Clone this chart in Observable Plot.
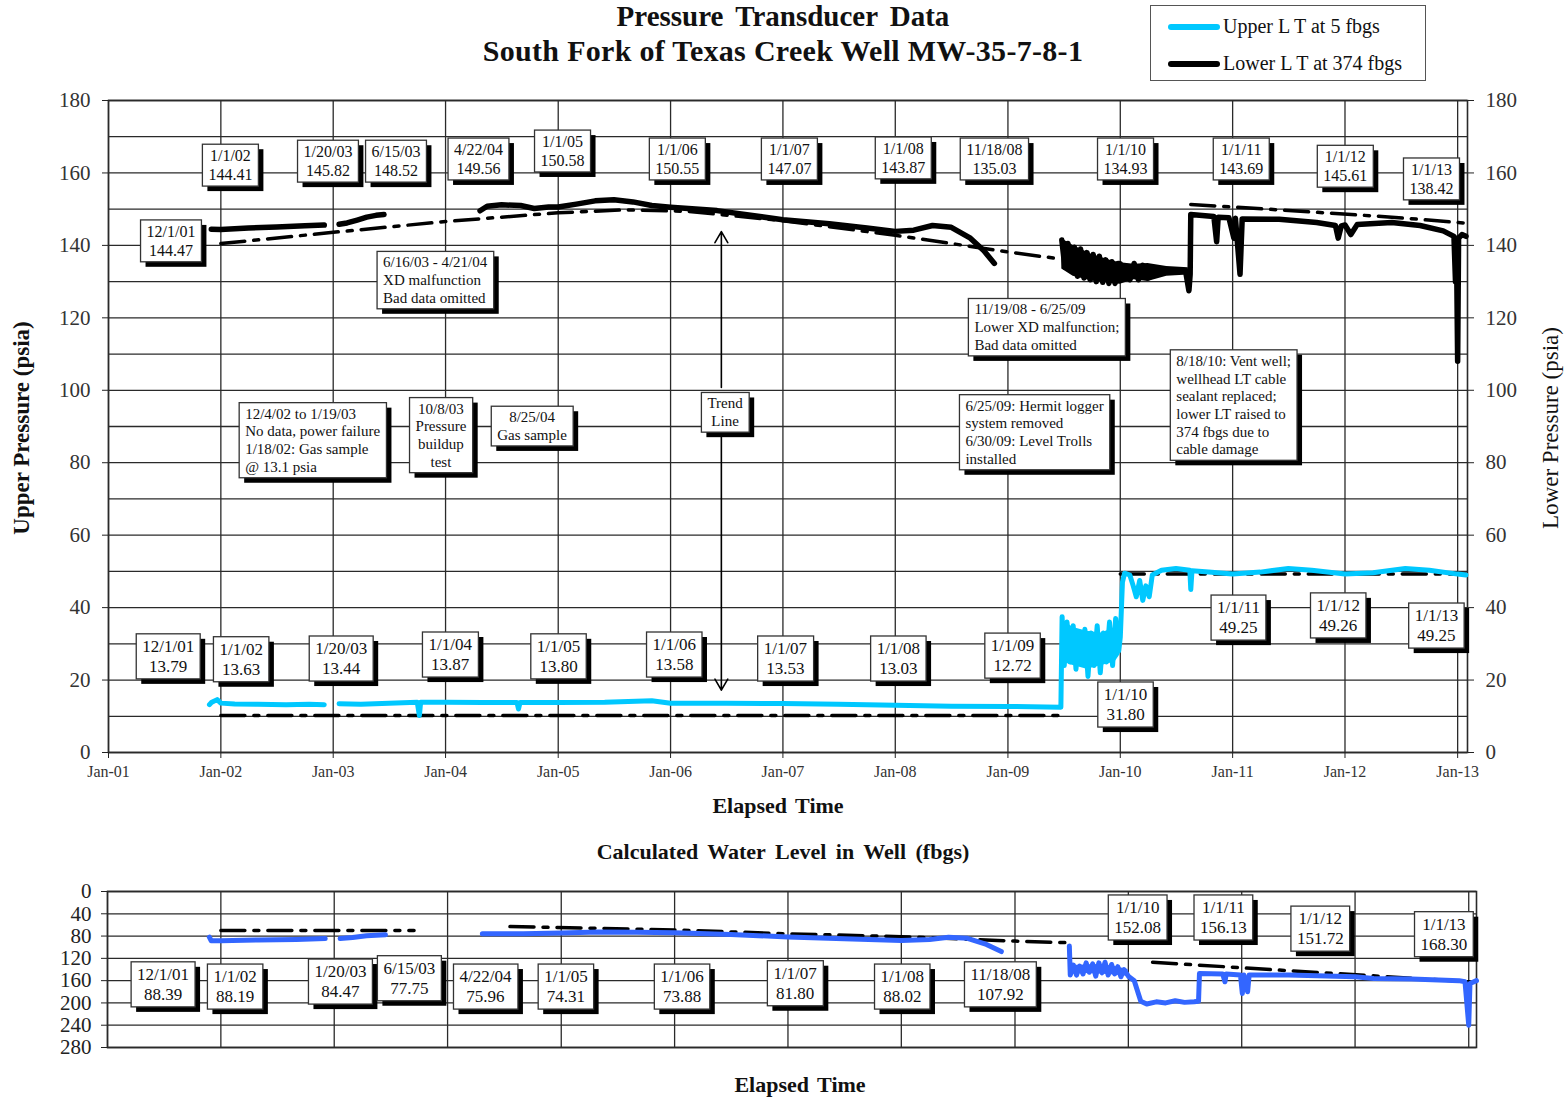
<!DOCTYPE html>
<html><head><meta charset="utf-8">
<script src="https://cdn.jsdelivr.net/npm/d3@7"></script>
<script src="https://cdn.jsdelivr.net/npm/@observablehq/plot@0.6"></script>
<style>
body{margin:0;background:#fff;}
#wrap{position:relative;width:1568px;height:1097px;font-family:"Liberation Serif","Times New Roman",serif;color:#111;overflow:hidden;}
#wrap svg{position:absolute;left:0;}
.lbl{position:absolute;white-space:nowrap;transform:translate(-50%,-50%);line-height:1.1;}
.b{font-weight:bold;}
.rot{transform:translate(-50%,-50%) rotate(-90deg);}
#legend{position:absolute;left:1150px;top:5px;width:274px;height:74px;border:1px solid #555;background:#fff;}
.lrow{position:absolute;left:17px;font-size:20px;display:flex;align-items:center;}
.sw{width:52px;height:6px;border-radius:3px;margin-right:3px;}
</style></head>
<body><div id="wrap">
<div class="lbl b" style="left:783px;top:17px;font-size:29px;word-spacing:5px;">Pressure Transducer Data</div>
<div class="lbl b" style="left:783px;top:50px;font-size:30px;letter-spacing:0.3px;">South Fork of Texas Creek Well MW-35-7-8-1</div>
<div id="legend">
  <div class="lrow" style="top:9px;"><div class="sw" style="background:#00c8ff"></div>Upper L T at 5 fbgs</div>
  <div class="lrow" style="top:46px;"><div class="sw" style="background:#000"></div>Lower L T at 374 fbgs</div>
</div>
</div>
<script>
// ---------- Upper LT (psia) ----------
const upperDates = ["2001-11-25","2001-12-01","2001-12-20","2002-01-01","2002-02-15","2002-05-01","2002-08-01","2002-10-15","2002-12-03","2002-12-04",
"2003-01-20","2003-04-01","2003-07-01","2003-10-01","2003-10-08","2003-10-12","2004-01-01","2004-05-01","2004-08-20","2004-08-25","2004-08-30",
"2005-01-01","2005-06-01","2005-11-01","2006-01-01","2006-07-01","2007-01-01","2007-07-01","2008-01-01","2008-07-01","2009-01-01","2009-06-22",
"2009-06-26","2009-07-03","2009-07-12","2009-07-22","2009-08-01","2009-08-10","2009-08-20","2009-08-30","2009-09-08","2009-09-18","2009-09-28",
"2009-10-08","2009-10-18","2009-10-28","2009-11-07","2009-11-17","2009-11-27","2009-12-07","2009-12-17","2009-12-27","2010-01-01","2010-01-08",
"2010-01-15","2010-02-01","2010-02-12","2010-02-22","2010-03-05","2010-03-15","2010-03-25","2010-04-05","2010-04-15","2010-05-15","2010-07-01",
"2010-08-15","2010-08-18","2010-08-22","2010-10-15","2011-01-01","2011-04-01","2011-07-01","2011-09-15","2012-01-01","2012-04-01","2012-07-15",
"2012-10-01","2013-01-01","2013-01-28"];
const upperValues = [13.2,13.79,14.6,13.63,13.4,13.3,13.2,13.3,13.2,null,
13.44,13.3,13.6,13.9,10.2,13.9,13.87,13.8,13.8,12.0,13.8,
13.8,13.9,14.3,13.58,13.6,13.53,13.3,13.03,12.8,12.72,12.5,
37.5,24,36,25,35,23,33,26,34,21,33,
24,35,22,33,25,36,24,37,28,31.8,47,
49.5,49,46,43,47.5,42,46,43,49,50.3,50.8,
50.3,45,50.2,49.8,49.25,49.8,50.8,50.3,49.26,49.6,50.8,
50.3,49.25,49.0];
// noisy envelope of the upper LT, 6/2009 - 12/2009
const upperBandDates = ["2009-06-27","2009-08-01","2009-09-15","2009-11-01","2009-12-15","2009-12-31"];
const upperBandHigh = [36.5,34.5,33.5,33,34.5,33.5];
const upperBandLow = [25,24,23,24,25,27];

// ---------- Lower LT (psia) ----------
const lowerDates = ["2001-12-01","2002-01-01","2002-04-01","2002-07-01","2002-10-01","2002-12-03","2002-12-04",
"2003-01-20","2003-02-15","2003-03-20","2003-04-20","2003-05-20","2003-06-15","2003-06-16",
"2004-04-22","2004-05-15","2004-07-01","2004-09-01","2004-10-15","2004-12-01","2005-01-01","2005-03-01","2005-05-01","2005-07-01",
"2005-09-01","2005-11-01","2006-01-01","2006-06-01","2007-01-01","2007-06-01","2007-10-01","2008-01-01","2008-03-01","2008-05-01",
"2008-07-01","2008-09-01","2008-10-15","2008-11-18","2008-11-19",
"2009-06-25","2009-07-05","2009-07-15","2009-07-25","2009-08-05","2009-08-15","2009-08-25","2009-09-05","2009-09-15","2009-09-25",
"2009-10-05","2009-10-15","2009-10-25","2009-11-05","2009-11-15","2009-11-25","2009-12-05","2009-12-15","2009-12-25","2010-01-01",
"2010-01-10","2010-01-20","2010-02-01","2010-02-15","2010-03-01","2010-03-15","2010-04-01","2010-04-15","2010-05-01","2010-06-01",
"2010-07-01","2010-08-01","2010-08-12","2010-08-16","2010-08-18","2010-09-15","2010-11-01","2010-11-10","2010-11-15","2010-12-20",
"2011-01-05","2011-01-10","2011-01-25","2011-02-01","2011-06-01","2011-10-01","2011-12-01","2011-12-10","2011-12-20","2012-01-01",
"2012-01-20","2012-02-10","2012-06-01","2012-09-01","2012-11-15","2012-12-20","2012-12-25","2012-12-28","2013-01-01","2013-01-04",
"2013-01-15","2013-01-28"];
const lowerValues = [144.47,144.41,144.8,145.1,145.4,145.6,null,
145.82,146.2,147.0,147.8,148.3,148.52,null,
149.56,150.8,151.2,151.0,150.2,150.6,150.58,151.4,152.3,152.6,
152.0,151.0,150.55,149.6,147.07,146.0,144.8,143.87,144.2,145.5,
145.0,142.0,138.5,135.03,null,
141.5,134,140.5,133,139.5,131.5,139,131,138,130.5,
137.5,130,137,129.8,136,129.5,135.5,129.5,135,134.93,
131,134,130.5,135,130.5,134.5,131,134,132.5,133,
133.3,133,127.5,132,148.5,148.3,148,141,147.8,147.6,
142,147.5,132,147.3,147.2,146.3,145.5,142,145.4,145.61,
143,145.8,146.3,145.5,144,142.5,130,142,108,142,
143,142.5];
// noisy envelope of the lower LT, 6/2009 - 8/2010
const lowerBandDates = ["2009-06-25","2009-08-01","2009-10-01","2009-12-01","2010-01-01","2010-02-15","2010-04-01","2010-06-01","2010-08-10"];
const lowerBandHigh = [141.8,140.0,137.5,135.8,135.2,134.8,135.0,134.2,133.8];
const lowerBandLow = [133.5,131.5,130.2,129.5,129.3,130.5,130.0,131.5,131.8];

// ---------- trend lines (psia) ----------
const lowerTrendDates = ["2002-01-01","2003-01-01","2004-01-01","2005-01-01","2005-08-01","2006-03-01","2007-01-01","2008-01-01","2009-01-01","2009-06-25","2009-06-26","2010-08-18","2011-06-01","2012-06-01","2013-01-20"];
const lowerTrendValues = [140.5,143.6,146.6,149.0,149.8,149.4,146.8,142.8,138.2,136.2,null,151.3,149.8,147.8,146.2];
const upperTrendDates = ["2002-01-01","2009-06-25","2009-06-26","2010-01-01","2013-01-28"];
const upperTrendValues = [10.2,10.2,null,49.3,49.3];

// ---------- Calculated water level (fbgs) ----------
const waterDates = ["2001-11-25","2001-12-01","2002-01-01","2002-05-01","2002-09-01","2002-12-03","2002-12-04",
"2003-01-20","2003-03-01","2003-04-15","2003-06-15","2003-06-16",
"2004-04-22","2004-09-01","2005-01-01","2005-05-01","2005-09-01","2006-01-01","2006-07-01","2007-01-01","2007-07-01","2008-01-01",
"2008-04-01","2008-06-01","2008-08-01","2008-10-01","2008-11-18","2008-11-19",
"2009-06-25","2009-06-28","2009-07-08","2009-07-18","2009-07-28","2009-08-08","2009-08-18","2009-08-28","2009-09-08","2009-09-18",
"2009-09-28","2009-10-08","2009-10-18","2009-10-28","2009-11-08","2009-11-18","2009-11-28","2009-12-08","2009-12-18","2010-01-01",
"2010-01-20","2010-02-10","2010-03-01","2010-04-01","2010-05-01","2010-06-01","2010-07-01","2010-08-01","2010-08-15","2010-08-18",
"2010-11-01","2010-11-08","2010-11-12","2010-12-28","2011-01-03","2011-01-08","2011-01-20","2011-01-25","2011-06-01","2012-01-01",
"2012-03-01","2012-07-01","2012-12-01","2012-12-20","2013-01-01","2013-01-05","2013-01-26"];
const waterValues = [82,88.4,88.2,87,86,84.5,null,
84.5,82.5,79.5,77.8,null,
76,76,74.3,72.5,73,73.9,77,81.8,85,88,
86,82,84,95,107.9,null,
98,150,132,150,134,148,128,145,130,152,
128,146,127,150,131,148,135,153,140,152,
160,197,202,198,200,196,199,198,197,147,
148,162,148,150,183,150,180,150,150,153,
156,157,160,162,240,165,160];
// noisy envelope of the water level, 7/2009 - 12/2009
const waterBandDates = ["2009-07-01","2009-08-15","2009-10-01","2009-11-15","2009-12-31"];
const waterBandLow = [133,132,131,134,140];
const waterBandHigh = [148,147,148,150,152];
const waterTrendDates = ["2002-01-01","2003-09-15","2003-09-16","2004-07-20","2006-01-01","2007-01-01","2008-01-01","2009-01-01","2009-06-25","2009-06-26","2010-03-20","2013-01-01"];
const waterTrendValues = [70,70,null,63,69,76,81,89,92,null,127,162];

// ---------- annotation labels ----------
const lowerLabelDates = ["2001-07-23","2002-02-01","2002-12-15","2003-07-24","2004-04-17","2005-01-15","2006-01-23","2007-01-22","2008-01-27","2008-11-18","2010-01-18","2011-01-29","2012-01-02","2012-10-08"];
const lowerLabelValues = [141.4,162.3,163.4,163.4,164,166.2,164,164,164.3,164,164,164,162,158.5];
const lowerLabelTexts = ["12/1/01\n144.47","1/1/02\n144.41","1/20/03\n145.82","6/15/03\n148.52","4/22/04\n149.56","1/1/05\n150.58","1/1/06\n150.55","1/1/07\n147.07","1/1/08\n143.87","11/18/08\n135.03","1/1/10\n134.93","1/1/11\n143.69","1/1/12\n145.61","1/1/13\n138.42"];

const noteDates = ["2003-06-12","2008-09-14","2002-03-21","2003-12-17","2004-10-08","2006-06-27","2008-08-16","2010-07-02"];
const noteValues = [130.6,117.6,86.4,87.8,90.3,94.1,88.6,96.1];
const noteAligns = ["start","start","start","middle","middle","middle","start","start"];
const noteTexts = ["6/16/03 - 4/21/04\nXD malfunction\nBad data omitted",
"11/19/08 - 6/25/09\nLower XD malfunction;\nBad data omitted",
"12/4/02 to 1/19/03\nNo data, power failure\n1/18/02: Gas sample\n@ 13.1 psia",
"10/8/03\nPressure\nbuildup\ntest",
"8/25/04\nGas sample",
"Trend\nLine",
"6/25/09: Hermit logger\nsystem removed\n6/30/09: Level Trolls\ninstalled",
"8/18/10: Vent well;\nwellhead LT cable\nsealant replaced;\nlower LT raised to\n374 fbgs due to\ncable damage"];

const upperLabelDates = ["2001-07-14","2002-03-08","2003-01-27","2004-01-16","2005-01-02","2006-01-13","2007-01-09","2008-01-11","2009-01-16","2010-01-18","2011-01-20","2011-12-10","2012-10-24"];
const upperLabelValues = [26.8,26.0,26.2,27.3,26.8,27.3,26.2,26.2,27.0,13.5,37.5,38.1,35.3];
const upperLabelTexts = ["12/1/01\n13.79","1/1/02\n13.63","1/20/03\n13.44","1/1/04\n13.87","1/1/05\n13.80","1/1/06\n13.58","1/1/07\n13.53","1/1/08\n13.03","1/1/09\n12.72","1/1/10\n31.80","1/1/11\n49.25","1/1/12\n49.26","1/1/13\n49.25"];

const trendArrowDate = "2006-06-15";
const trendArrowFrom = [100.8, 87.5];
const trendArrowTo = [143.8, 17.2];

const waterLabelDates = ["2001-06-29","2002-02-16","2003-01-21","2003-08-31","2004-05-02","2005-01-16","2006-01-25","2007-01-24","2008-01-04","2008-11-15","2010-01-31","2010-11-03","2011-09-11","2012-10-13"];
const waterLabelValues = [165,169,160,154,169,169,169,163,169,165,45,45,65,75];
const waterLabelTexts = ["12/1/01\n88.39","1/1/02\n88.19","1/20/03\n84.47","6/15/03\n77.75","4/22/04\n75.96","1/1/05\n74.31","1/1/06\n73.88","1/1/07\n81.80","1/1/08\n88.02","11/18/08\n107.92","1/1/10\n152.08","1/1/11\n156.13","1/1/12\n151.72","1/1/13\n168.30"];

const pressureTicks = d3.range(0, 181, 20);
const pressureGrid = d3.range(0, 181, 10);
const waterTicks = d3.range(0, 281, 40);
const yearTicks = d3.range(2001, 2014).map(y => new Date(Date.UTC(y, 0, 1)));

// ---------- helpers ----------
const D = s => new Date(s + "T00:00:00Z");
const rows = (ds, vs) => ds.map((d, i) => ({date: D(d), value: vs[i]}));
const band = (ds, lo, hi) => ds.map((d, i) => ({date: D(d), lo: lo[i], hi: hi[i]}));
const lab = (ds, vs, ts, al) => ds.map((d, i) => ({date: D(d), value: vs[i], text: ts[i], align: al ? al[i] : "middle"}));
const dashDot = "24,9,5,9";
const FONT = '"Liberation Serif","Times New Roman",serif';

function annot(data, size, anchor) {
  return Plot.text(data, {x: "date", y: "value", text: "text", textAnchor: anchor || "middle", lineAnchor: "middle",
    fontSize: size, lineHeight: 1.18, fill: "#111", fontFamily: FONT, ariaDescription: "annot"});
}

function boxify(svg) {
  const ns = "http://www.w3.org/2000/svg";
  svg.querySelectorAll('g[aria-description="annot"] text').forEach(t => {
    const b = t.getBBox();
    const px = 6, py = 3;
    const tr = t.getAttribute("transform") || "";
    const mk = (dx, fill, stroke) => {
      const r = document.createElementNS(ns, "rect");
      r.setAttribute("x", b.x - px + dx); r.setAttribute("y", b.y - py + dx);
      r.setAttribute("width", b.width + 2 * px); r.setAttribute("height", b.height + 2 * py);
      r.setAttribute("fill", fill);
      if (stroke) { r.setAttribute("stroke", stroke); r.setAttribute("stroke-width", 1.3); }
      if (tr) r.setAttribute("transform", tr);
      return r;
    };
    t.parentNode.insertBefore(mk(5, "#000", null), t);
    t.parentNode.insertBefore(mk(0, "#fff", "#333"), t);
  });
}

const wrap = document.getElementById("wrap");

// ---------- top chart ----------
const topChart = Plot.plot({
  width: 1568, height: 830,
  marginLeft: 108, marginRight: 101, marginTop: 100, marginBottom: 78,
  style: {fontFamily: FONT, background: "transparent", overflow: "visible", color: "#222"},
  x: {type: "utc", domain: [D("2001-01-01"), D("2013-02-02")]},
  y: {domain: [0, 180]},
  marks: [
    Plot.gridY(pressureGrid, {stroke: "#2a2a2a", strokeOpacity: 1, strokeWidth: 1.3}),
    Plot.gridX(yearTicks, {stroke: "#2a2a2a", strokeOpacity: 1, strokeWidth: 1.3}),
    Plot.frame({stroke: "#2a2a2a", strokeWidth: 1.6}),
    Plot.axisX({ticks: yearTicks, tickFormat: d3.utcFormat("Jan-%y"), label: null, tickSize: 6, tickPadding: 7, fontSize: 16, fill: "#333"}),
    Plot.axisY({anchor: "left", ticks: pressureTicks, label: null, tickSize: 6, tickPadding: 12, fontSize: 21, fill: "#333"}),
    Plot.axisY({anchor: "right", ticks: pressureTicks, label: null, tickSize: 6, tickPadding: 12, fontSize: 21, fill: "#333"}),
    Plot.line(rows(lowerTrendDates, lowerTrendValues), {x: "date", y: "value", stroke: "#000", strokeWidth: 3.5, strokeDasharray: dashDot}),
    Plot.line(rows(upperTrendDates, upperTrendValues), {x: "date", y: "value", stroke: "#000", strokeWidth: 3.5, strokeDasharray: dashDot}),
    Plot.areaY(band(lowerBandDates, lowerBandLow, lowerBandHigh), {x: "date", y1: "lo", y2: "hi", fill: "#000"}),
    Plot.line(rows(lowerDates, lowerValues), {x: "date", y: "value", stroke: "#000", strokeWidth: 5.5, strokeLinejoin: "round"}),
    Plot.areaY(band(upperBandDates, upperBandLow, upperBandHigh), {x: "date", y1: "lo", y2: "hi", fill: "#00c8ff"}),
    Plot.line(rows(upperDates, upperValues), {x: "date", y: "value", stroke: "#00c8ff", strokeWidth: 5, strokeLinejoin: "round"}),
    Plot.arrow(trendArrowFrom.map((f, i) => ({x: D(trendArrowDate), y1: f, y2: trendArrowTo[i]})),
      {x1: "x", x2: "x", y1: "y1", y2: "y2", stroke: "#000", strokeWidth: 1.6, headLength: 12}),
    annot(lab(lowerLabelDates, lowerLabelValues, lowerLabelTexts), 16),
    annot(lab(noteDates, noteValues, noteTexts, noteAligns).filter(d => d.align === "start"), 15, "start"),
    annot(lab(noteDates, noteValues, noteTexts, noteAligns).filter(d => d.align === "middle"), 15, "middle"),
    annot(lab(upperLabelDates, upperLabelValues, upperLabelTexts), 17)
  ]
});
topChart.style.top = "0px";
wrap.appendChild(topChart);
boxify(topChart);

// ---------- bottom chart ----------
const bottomChart = Plot.plot({
  width: 1568, height: 257,
  marginLeft: 107, marginRight: 92, marginTop: 51, marginBottom: 50,
  style: {fontFamily: FONT, background: "transparent", overflow: "visible", color: "#222"},
  x: {type: "utc", domain: [D("2001-01-01"), D("2013-01-26")], axis: null},
  y: {domain: [0, 280], reverse: true},
  marks: [
    Plot.gridY(waterTicks, {stroke: "#2a2a2a", strokeOpacity: 1, strokeWidth: 1.3}),
    Plot.gridX(yearTicks, {stroke: "#2a2a2a", strokeOpacity: 1, strokeWidth: 1.3}),
    Plot.frame({stroke: "#2a2a2a", strokeWidth: 1.6}),
    Plot.axisY({anchor: "left", ticks: waterTicks, label: null, tickSize: 6, tickPadding: 10, fontSize: 21, fill: "#222"}),
    Plot.line(rows(waterTrendDates, waterTrendValues), {x: "date", y: "value", stroke: "#000", strokeWidth: 3.5, strokeDasharray: dashDot}),
    Plot.areaY(band(waterBandDates, waterBandLow, waterBandHigh), {x: "date", y1: "lo", y2: "hi", fill: "#3366ff"}),
    Plot.line(rows(waterDates, waterValues), {x: "date", y: "value", stroke: "#3366ff", strokeWidth: 5, strokeLinejoin: "round"}),
    annot(lab(waterLabelDates, waterLabelValues, waterLabelTexts), 17)
  ]
});
bottomChart.style.top = "840px";
wrap.appendChild(bottomChart);
boxify(bottomChart);

// ---------- axis titles ----------
const addLbl = (txt, x, y, size, cls, extra) => {
  const d = document.createElement("div");
  d.className = "lbl " + (cls || "");
  d.style.left = x + "px"; d.style.top = y + "px"; d.style.fontSize = size + "px";
  if (extra) d.style.wordSpacing = extra;
  d.textContent = txt; wrap.appendChild(d);
};
addLbl("Upper Pressure (psia)", 22, 428, 23, "b rot");
addLbl("Lower Pressure (psia)", 1551, 428, 23, "rot");
addLbl("Elapsed Time", 778, 806, 22, "b", "3px");
addLbl("Calculated Water Level in Well (fbgs)", 783, 852, 22, "b", "4px");
addLbl("Elapsed Time", 800, 1085, 22, "b", "3px");
</script>
</body></html>
